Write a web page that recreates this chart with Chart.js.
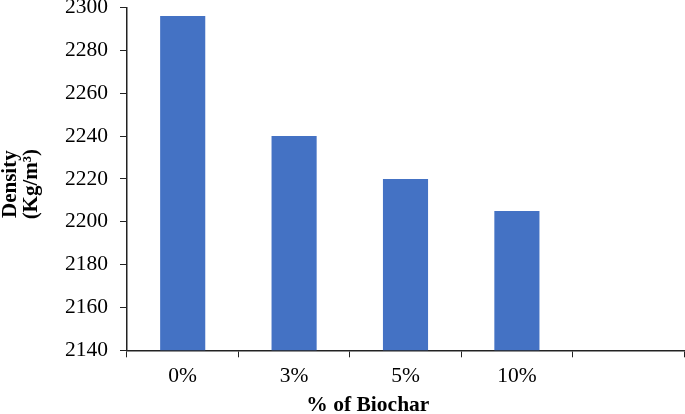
<!DOCTYPE html>
<html>
<head>
<meta charset="utf-8">
<script src="https://cdn.jsdelivr.net/npm/chart.js@4"></script>
<style>
html,body{margin:0;padding:0;background:#fff;}
#wrap{width:685px;height:414px;}
</style>
</head>
<body>
<div id="wrap"><canvas id="c" width="685" height="414"></canvas></div>
<script>
const categories = ['0%', '3%', '5%', '10%', ''];
const densityValues = [2296, 2240, 2220, 2205, null];
const yTicks = [2140, 2160, 2180, 2200, 2220, 2240, 2260, 2280, 2300];
const xTitle = '% of Biochar';
const yTitle = ['Density', '(Kg/m³)'];

const serif = "'Liberation Serif', 'Times New Roman', serif";

new Chart(document.getElementById('c'), {
  type: 'bar',
  data: {
    labels: categories,
    datasets: [{
      data: densityValues,
      backgroundColor: '#4472C4',
      borderWidth: 0,
      barPercentage: 0.405,
      categoryPercentage: 1.0
    }]
  },
  options: {
    responsive: false,
    animation: false,
    devicePixelRatio: 1,
    layout: { padding: { top: 0, right: 1, left: 0, bottom: 0 } },
    plugins: { legend: { display: false }, tooltip: { enabled: false } },
    scales: {
      x: {
        grid: { drawOnChartArea: false, drawTicks: true, tickLength: 7, color: '#222', offset: true },
        border: { display: true, color: '#222', width: 1.5 },
        ticks: { color: '#000', font: { family: serif, size: 21.5, lineHeight: 1.0 }, padding: 8 },
        title: {
          display: true,
          text: xTitle + '\u2002\u2002\u2002\u2002\u2002\u2002\u2002',
          color: '#000',
          font: { family: serif, size: 21.5, weight: 'bold', lineHeight: 0.8 },
          padding: { top: 2, bottom: 0 }
        }
      },
      y: {
        min: 2140,
        max: 2300,
        afterBuildTicks: (axis) => { axis.ticks = yTicks.map(v => ({ value: v })); },
        afterFit: (axis) => { axis.paddingTop = 7.5; axis.paddingBottom = 7.5; },
        grid: { drawOnChartArea: false, drawTicks: true, tickLength: 7, color: '#222' },
        border: { display: true, color: '#222', width: 1.5 },
        ticks: { color: '#000', font: { family: serif, size: 21.5, lineHeight: 0.7 }, padding: 12, callback: (v) => String(v) },
        title: {
          display: true,
          text: yTitle.map(s => s + '\u2002'),
          color: '#000',
          font: { family: serif, size: 21, weight: 'bold', lineHeight: 1.0 },
          padding: { top: 0, bottom: 11 }
        }
      }
    }
  }
});
</script>
</body>
</html>
